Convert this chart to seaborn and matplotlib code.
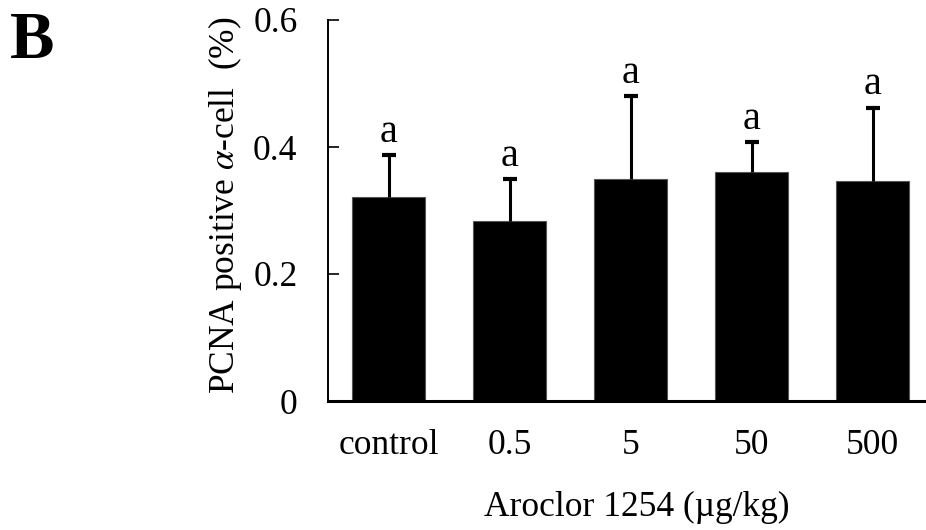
import matplotlib
matplotlib.use("Agg")
import matplotlib.pyplot as plt
import numpy as np
import pandas as pd
import seaborn as sns

groups = ["control", "0.5", "5", "50", "500"]
means = [0.322, 0.283, 0.349, 0.361, 0.346]
errors = [0.065, 0.067, 0.131, 0.047, 0.116]
letters = ["a", "a", "a", "a", "a"]

sns.set_theme(style="white")
plt.rcParams["font.family"] = ["Liberation Serif", "DejaVu Serif"]
plt.rcParams["mathtext.fontset"] = "stix"
for key in ["text.color", "axes.labelcolor", "xtick.color", "ytick.color"]:
    plt.rcParams[key] = "black"

df = pd.DataFrame({"group": groups, "mean": means})

fig = plt.figure(figsize=(9.26, 5.30), dpi=100)
ax = fig.add_axes([328 / 926, 1 - 401 / 530, 1 - 328 / 926, (401 - 20) / 530])

sns.barplot(data=df, x="group", y="mean", color="black", width=0.6,
            edgecolor="#555555", linewidth=0.8, saturation=1, ax=ax)

xs = np.array([p.get_x() + p.get_width() / 2 for p in ax.patches])
ys = np.array([p.get_height() for p in ax.patches])
err = np.array(errors)
_, caps, _ = ax.errorbar(xs, ys, yerr=[np.zeros_like(err), err], fmt="none",
                         ecolor="black", elinewidth=2.2, capsize=5, capthick=3)
caps[0].set_visible(False)  # upper-only error bars
for x, top, lab in zip(xs, ys + err, letters):
    ax.annotate(lab, (x, top), xytext=(0, 3), textcoords="offset points",
                ha="center", va="bottom", fontsize=29)

ax.set_xlim(-0.5, 4.44)
ax.set_ylim(0, 0.6)
ax.set_yticks([0, 0.2, 0.4, 0.6], ["0", "0.2", "0.4", "0.6"])
ax.tick_params(axis="y", left=True, direction="in", length=8, width=1.2,
               pad=22, labelsize=25.5)
ax.tick_params(axis="x", bottom=False, length=0, pad=20, labelsize=25.5)

for side in ["top", "right"]:
    ax.spines[side].set_visible(False)
ax.spines["left"].set_linewidth(1.4)
ax.spines["bottom"].set_linewidth(2.2)
for side in ["left", "bottom"]:
    ax.spines[side].set_color("black")

ax.set_xlabel("Aroclor 1254 (\u00b5g/kg)", fontsize=25.5)
ax.xaxis.set_label_coords(0.5 + 10 / 598, -90 / 381)
ax.set_ylabel("PCNA positive $\\alpha$-cell  (%)", fontsize=25.5)
ax.yaxis.set_label_coords(-84 / 598, 0.515)

fig.text(10 / 926, 1 - 11 / 530, "B", fontsize=48, fontweight="bold",
         ha="left", va="top")

fig.savefig("out.png", dpi=100)
